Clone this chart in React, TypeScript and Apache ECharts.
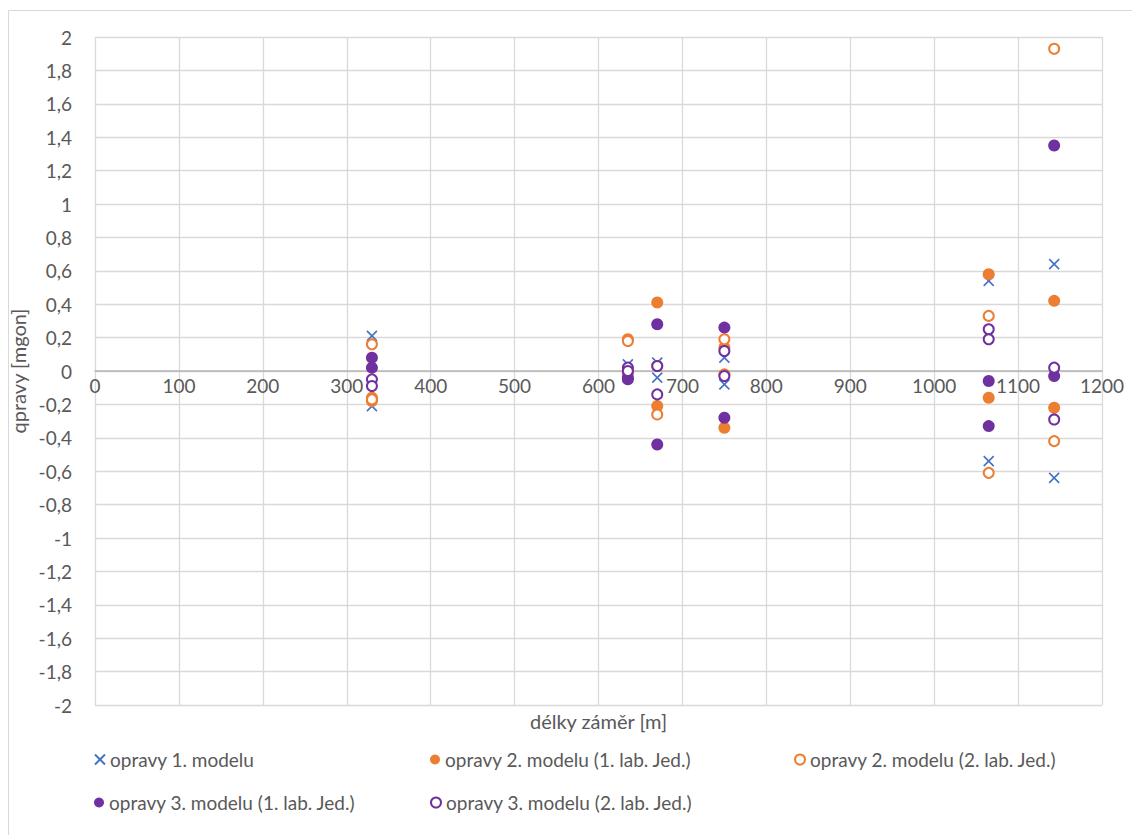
import React, { useEffect, useRef } from "react";
import * as echarts from "echarts";

const lengths = [330, 330, 635, 635, 670, 670, 750, 750, 1065, 1065, 1143, 1143];
const model1 = [0.21, -0.21, 0.04, -0.04, 0.05, -0.04, 0.08, -0.08, 0.54, -0.54, 0.64, -0.64];
const model2Lab1 = [-0.16, -0.18, 0.19, -0.01, 0.41, -0.21, 0.14, -0.34, 0.58, -0.16, 0.42, -0.22];
const model2Lab2 = [0.16, -0.17, 0.18, -0.01, 0.03, -0.26, 0.19, -0.02, 0.33, -0.61, 1.93, -0.42];
const model3Lab1 = [0.08, 0.02, -0.04, -0.05, 0.28, -0.44, 0.26, -0.28, -0.06, -0.33, 1.35, -0.03];
const model3Lab2 = [-0.05, -0.09, 0.02, 0.0, 0.03, -0.14, 0.12, -0.03, 0.25, 0.19, 0.02, -0.29];

const seriesNames = [
  "opravy 1. modelu",
  "opravy 2. modelu (1. lab. Jed.)",
  "opravy 2. modelu (2. lab. Jed.)",
  "opravy 3. modelu (1. lab. Jed.)",
  "opravy 3. modelu (2. lab. Jed.)",
];

const BLUE = "#4472C4";
const ORANGE = "#ED7D31";
const PURPLE = "#7030A0";
const FONT = "Lato";
const TXT = "#595959";

const CROSS = "path://M0,0L10,10M10,0L0,10";

const pairs = (vals: number[]) => lengths.map((x, i) => [x, vals[i]]);

export default function App() {
  const ref = useRef<HTMLDivElement>(null);
  useEffect(() => {
    document.body.style.margin = "0";
    const chart = echarts.init(ref.current!, null, { renderer: "svg" });
    const legendPos = [
      { left: 89, top: 745 },
      { left: 425, top: 745 },
      { left: 789, top: 745 },
      { left: 89, top: 788 },
      { left: 425, top: 788 },
    ];
    const gridTop = 37;
    const gridBottom = 130;
    const plotH = 835 - gridTop - gridBottom;
    const zeroOffset = plotH / 2; // y=0 sits mid-way between -2 and 2
    chart.setOption({
      animation: false,
      backgroundColor: "#ffffff",
      textStyle: { fontFamily: FONT },
      graphic: [
        {
          type: "rect",
          shape: { x: 8.5, y: 10.5, width: 1140, height: 840 },
          style: { fill: "none", stroke: "#d9d9d9", lineWidth: 1 },
          silent: true,
        },
      ],
      grid: {
        left: 95,
        top: gridTop,
        right: 30,
        bottom: gridBottom,
        containLabel: false,
        outerBoundsMode: "none",
      },
      legend: seriesNames.map((n, i) => ({
        data: [n],
        left: legendPos[i].left,
        top: legendPos[i].top,
        itemWidth: 10,
        itemHeight: 10,
        textStyle: { fontSize: 19, color: TXT, fontFamily: FONT },
        selectedMode: false,
      })),
      xAxis: {
        type: "value",
        min: 0,
        max: 1200,
        interval: 100,
        offset: -zeroOffset,
        name: "délky záměr [m]",
        nameLocation: "middle",
        nameGap: 340,
        nameTextStyle: { fontSize: 20, color: TXT, fontFamily: FONT },
        axisLine: { show: true, onZero: false, lineStyle: { color: "#b4b4b4", width: 1.5 } },
        axisTick: { show: false },
        axisLabel: {
          fontSize: 19,
          color: TXT,
          margin: 5,
          fontFamily: FONT,
          formatter: (v: number) => String(v),
        },
        splitLine: { show: true, lineStyle: { color: "#d9d9d9", width: 1.3 } },
      },
      yAxis: {
        type: "value",
        min: -2,
        max: 2,
        interval: 0.2,
        name: "qpravy [mgon]",
        nameLocation: "middle",
        nameGap: 64,
        nameTextStyle: { fontSize: 20, color: TXT, fontFamily: FONT },
        axisLine: { show: false },
        axisTick: { show: false },
        axisLabel: {
          fontSize: 19,
          color: TXT,
          margin: 23,
          fontFamily: FONT,
          formatter: (v: number) => String(Math.round(v * 10) / 10).replace(".", ","),
        },
        splitLine: { show: true, lineStyle: { color: "#d9d9d9", width: 1.3 } },
      },
      series: [
        {
          name: seriesNames[0],
          type: "scatter",
          data: pairs(model1),
          symbol: CROSS,
          symbolSize: 10,
          itemStyle: { color: "rgba(0,0,0,0)", borderColor: BLUE, borderWidth: 1.6, opacity: 1 },
        },
        {
          name: seriesNames[1],
          type: "scatter",
          data: pairs(model2Lab1),
          symbol: "circle",
          symbolSize: 12,
          itemStyle: { color: ORANGE, opacity: 1 },
        },
        {
          name: seriesNames[2],
          type: "scatter",
          data: pairs(model2Lab2),
          symbol: "circle",
          symbolSize: 10,
          itemStyle: { color: "#ffffff", borderColor: ORANGE, borderWidth: 2, opacity: 1 },
        },
        {
          name: seriesNames[3],
          type: "scatter",
          data: pairs(model3Lab1),
          symbol: "circle",
          symbolSize: 12,
          itemStyle: { color: PURPLE, opacity: 1 },
        },
        {
          name: seriesNames[4],
          type: "scatter",
          data: pairs(model3Lab2),
          symbol: "circle",
          symbolSize: 10,
          itemStyle: { color: "#ffffff", borderColor: PURPLE, borderWidth: 2, opacity: 1 },
        },
      ],
    });
    return () => chart.dispose();
  }, []);
  return <div ref={ref} style={{ width: 1132, height: 835 }} />;
}
